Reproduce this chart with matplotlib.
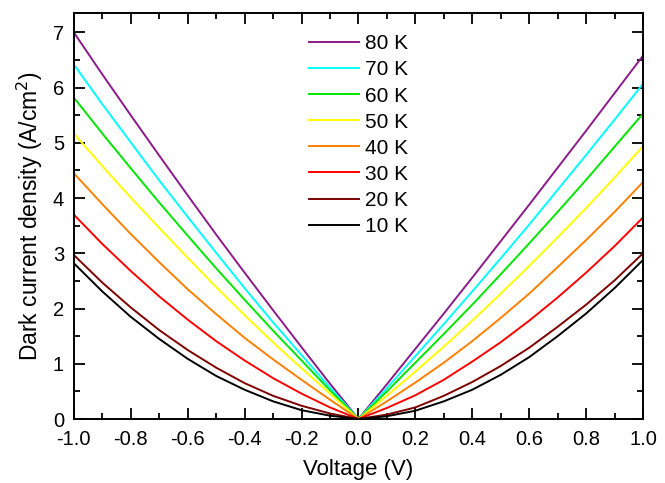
import numpy as np
import matplotlib
matplotlib.use("Agg")
import matplotlib.pyplot as plt
from matplotlib.ticker import MultipleLocator

plt.rcParams['font.family'] = ['Liberation Sans', 'DejaVu Sans']

# Voltage grid (V)
voltage = [-1.0, -0.9, -0.8, -0.7, -0.6, -0.5, -0.4, -0.3, -0.2, -0.1, 0.0,
           0.1, 0.2, 0.3, 0.4, 0.5, 0.6, 0.7, 0.8, 0.9, 1.0]

# Dark current density (A/cm^2)
j_10k = [2.82, 2.31, 1.85, 1.45, 1.09, 0.78, 0.53, 0.32, 0.16, 0.06, 0.0,
         0.05, 0.15, 0.32, 0.53, 0.80, 1.12, 1.50, 1.91, 2.37, 2.88]
j_20k = [2.97, 2.47, 2.02, 1.61, 1.25, 0.93, 0.65, 0.42, 0.24, 0.10, 0.0,
         0.08, 0.21, 0.42, 0.67, 0.96, 1.29, 1.67, 2.07, 2.51, 3.00]
j_30k = [3.70, 3.17, 2.68, 2.22, 1.80, 1.41, 1.06, 0.74, 0.46, 0.21, 0.0,
         0.20, 0.43, 0.71, 1.04, 1.39, 1.78, 2.20, 2.65, 3.13, 3.65]
j_40k = [4.45, 3.89, 3.35, 2.84, 2.35, 1.90, 1.47, 1.08, 0.71, 0.35, 0.0,
         0.32, 0.66, 1.02, 1.41, 1.83, 2.27, 2.75, 3.24, 3.75, 4.29]
j_50k = [5.17, 4.58, 4.01, 3.46, 2.92, 2.39, 1.88, 1.39, 0.92, 0.46, 0.0,
         0.42, 0.86, 1.31, 1.78, 2.27, 2.77, 3.29, 3.82, 4.37, 4.94]
j_60k = [5.82, 5.17, 4.54, 3.92, 3.32, 2.73, 2.16, 1.60, 1.06, 0.52, 0.0,
         0.50, 1.02, 1.54, 2.07, 2.62, 3.18, 3.75, 4.33, 4.93, 5.53]
j_70k = [6.42, 5.70, 5.01, 4.32, 3.66, 3.01, 2.37, 1.75, 1.16, 0.57, 0.0,
         0.56, 1.14, 1.72, 2.31, 2.91, 3.52, 4.15, 4.78, 5.42, 6.07]
j_80k = [7.00, 6.24, 5.50, 4.77, 4.05, 3.34, 2.65, 1.97, 1.30, 0.64, 0.0,
         0.63, 1.27, 1.91, 2.56, 3.22, 3.88, 4.55, 5.22, 5.90, 6.58]

labels = ['80 K', '70 K', '60 K', '50 K', '40 K', '30 K', '20 K', '10 K']
series = [j_80k, j_70k, j_60k, j_50k, j_40k, j_30k, j_20k, j_10k]
colors = ['#8b1a8b', '#00ffff', '#00e600', '#ffff00', '#ff8000', '#ff0000',
          '#800000', '#000000']

fig = plt.figure(figsize=(6.65, 4.83), dpi=100)
ax = fig.add_axes([0.111, 0.1325, 0.856, 0.8405])

for j, c, lab in zip(series, colors, labels):
    ax.plot(voltage, j, color=c, lw=1.4, label=lab)

ax.set_xlim(-1.0, 1.0)
ax.set_ylim(0, 7.35)
ax.xaxis.set_major_locator(MultipleLocator(0.2))
ax.xaxis.set_minor_locator(MultipleLocator(0.1))
ax.yaxis.set_major_locator(MultipleLocator(1))
ax.yaxis.set_minor_locator(MultipleLocator(0.5))
ax.xaxis.set_major_formatter(matplotlib.ticker.FormatStrFormatter('%.1f'))

ax.tick_params(which='both', direction='in', top=True, right=True,
               width=1.3, labelsize=14.5)
ax.tick_params(axis='x', pad=8)
ax.tick_params(axis='y', pad=7)
ax.tick_params(which='major', length=8)
ax.tick_params(which='minor', length=4.5)
for s in ax.spines.values():
    s.set_linewidth(1.4)

ax.set_xlabel('Voltage (V)', fontsize=16, labelpad=7)
ax.set_ylabel('Dark current density (A/cm$^2$)', fontsize=16.5, labelpad=6)

ax.legend(loc='upper center', bbox_to_anchor=(0.5, 0.968), frameon=False,
          fontsize=15, handlelength=2.4, handletextpad=0.3,
          labelspacing=0.34, borderaxespad=0)

fig.savefig('out.png', dpi=100)
